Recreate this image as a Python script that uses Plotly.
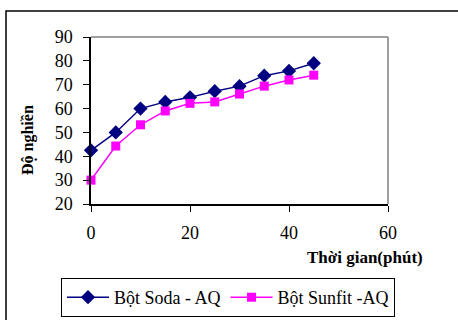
import plotly.graph_objects as go

time_min = [0, 5, 10, 15, 20, 25, 30, 35, 40, 45]
soda_aq = [42.5, 50, 60, 62.8, 64.7, 67.3, 69.4, 73.8, 75.8, 79]
sunfit_aq = [30, 44.3, 53.2, 59, 62.2, 62.8, 66.1, 69.4, 72, 74]
x_ticks = [0, 20, 40, 60]
y_ticks = [20, 30, 40, 50, 60, 70, 80, 90]

FONT = "Liberation Serif"

fig = go.Figure()
fig.add_trace(go.Scatter(
    x=time_min, y=soda_aq, mode="lines+markers", name="Bột Soda - AQ",
    line=dict(color="#000080", width=1.5),
    marker=dict(symbol="diamond", size=11, color="#000080"),
    cliponaxis=False,
))
fig.add_trace(go.Scatter(
    x=time_min, y=sunfit_aq, mode="lines+markers", name="Bột Sunfit -AQ",
    line=dict(color="#FF00FF", width=1.5),
    marker=dict(symbol="square", size=9, color="#FF00FF"),
    cliponaxis=False,
))

L, R, T, B = 91, 388, 37, 204
W, H = 458, 320
pw, ph = R - L, B - T

def px(x):
    return (x - L) / pw

def py(y):
    return (B - y) / ph

fig.update_layout(
    width=W, height=H, autosize=False,
    margin=dict(l=L, r=W - R, t=T, b=H - B, pad=0, autoexpand=False),
    paper_bgcolor="white", plot_bgcolor="white",
    font=dict(family=FONT, size=18, color="black"),
    showlegend=True,
    legend=dict(
        orientation="h", xref="paper", yref="paper",
        x=px(61), y=py(278), xanchor="left", yanchor="top",
        bordercolor="black", borderwidth=1, bgcolor="white",
        font=dict(family=FONT, size=18, color="black"), itemwidth=42,
        tracegroupgap=0,
    ),
    xaxis=dict(
        range=[0, 60], tickvals=x_ticks, showgrid=False, zeroline=False,
        showline=True, linecolor="black", linewidth=1.5,
        ticks="outside", ticklen=6, tickcolor="black", tickwidth=1,
        ticklabelstandoff=6, automargin=False,
        tickfont=dict(family=FONT, size=18, color="black"),
    ),
    yaxis=dict(
        range=[20, 90], tickvals=y_ticks, showgrid=False, zeroline=False,
        showline=True, linecolor="black", linewidth=1.5,
        ticks="outside", ticklen=6, tickcolor="black", tickwidth=1,
        ticklabelstandoff=7, automargin=False,
        tickfont=dict(family=FONT, size=18, color="black"),
    ),
    shapes=[
        dict(type="line", xref="paper", yref="paper", x0=0, x1=1, y0=1, y1=1,
             line=dict(color="#808080", width=1.5)),
        dict(type="line", xref="paper", yref="paper", x0=1, x1=1, y0=0, y1=1,
             line=dict(color="#808080", width=1.5)),
        dict(type="rect", xref="paper", yref="paper",
             x0=px(6), x1=px(W + 10), y0=py(H + 10), y1=py(11),
             line=dict(color="black", width=1.5)),
    ],
    annotations=[
        dict(text="<b>Độ nghiền</b>", xref="paper", yref="paper",
             x=px(28), y=py(140), textangle=-90, showarrow=False,
             font=dict(family=FONT, size=16, color="black"),
             xanchor="center", yanchor="middle"),
        dict(text="<b>Thời gian(phút)</b>", xref="paper", yref="paper",
             x=px(365), y=py(257), showarrow=False,
             font=dict(family=FONT, size=17, color="black"),
             xanchor="center", yanchor="middle"),
    ],
)

fig.write_html("out.html")
